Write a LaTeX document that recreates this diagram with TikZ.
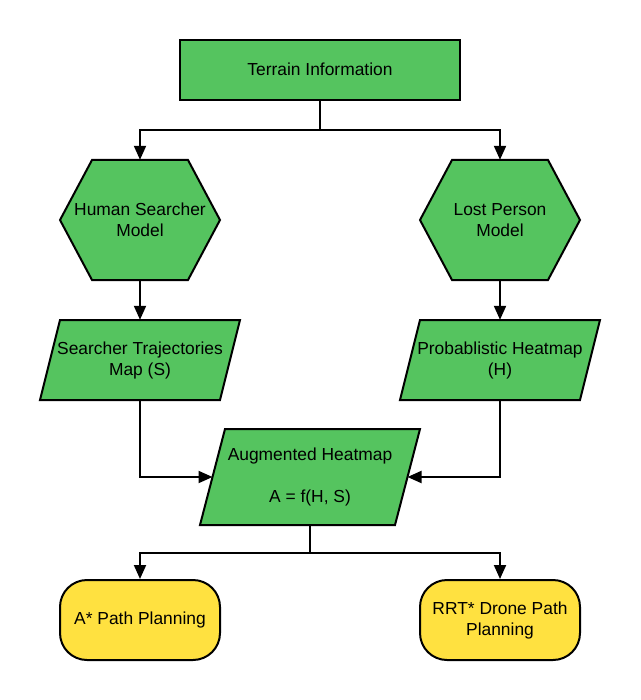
\documentclass[tikz,border=0pt]{standalone}
\usepackage{fontspec}
\setmainfont{Liberation Sans}
\usetikzlibrary{arrows.meta,calc}
\definecolor{boxgreen}{RGB}{85,196,95}
\definecolor{boxyellow}{RGB}{255,225,64}
\begin{document}
\begin{tikzpicture}[x=1pt,y=-1pt,
  every node/.style={font=\fontsize{17.4}{21}\selectfont, align=center, inner sep=0pt},
  shapeline/.style={draw=black, line width=2pt, line join=miter},
  greenfill/.style={shapeline, fill=boxgreen},
  yellowbox/.style={shapeline, fill=boxyellow, rounded corners=27pt, minimum width=160pt, minimum height=80pt},
  conn/.style={draw=black, line width=2pt, -{Triangle[length=14pt,width=12pt]}},
  plainconn/.style={draw=black, line width=2pt}
]
\useasboundingbox (0,0) rectangle (640,700);

% shapes (outlines)
\path[greenfill] (180,40) rectangle (460,100);
\path[greenfill] (60,220) -- (92,160) -- (188,160) -- (220,220) -- (188,280) -- (92,280) -- cycle;
\path[greenfill] (420,220) -- (452,160) -- (548,160) -- (580,220) -- (548,280) -- (452,280) -- cycle;
\path[greenfill] (60,320) -- (240,320) -- (220,400) -- (40,400) -- cycle;
\path[greenfill] (420,320) -- (600,320) -- (580,400) -- (400,400) -- cycle;
\path[greenfill] (225,429) -- (420,429) -- (395,525) -- (200,525) -- cycle;

% nodes
\node[minimum width=280pt, minimum height=60pt] (ti) at (320,70) {\raisebox{2pt}{Terrain Information}};
\node[minimum width=160pt, minimum height=120pt] (hs) at (140,220) {Human Searcher\\Model};
\node[minimum width=160pt, minimum height=120pt] (lp) at (500,220) {Lost Person\\Model};
\node[minimum width=180pt, minimum height=80pt] (st) at (140,360) {Searcher Trajectories\\Map (S)};
\node[minimum width=180pt, minimum height=80pt] (ph) at (500,360) {Probablistic Heatmap\\(H)};
\node[minimum width=195pt, minimum height=96pt] (ah) at (310,477) {Augmented Heatmap\\[21pt]A = f(H, S)};
\node[yellowbox] (ap) at (140,620) {\raisebox{2pt}{A* Path Planning}};
\node[yellowbox] (rr) at (500,620) {RRT* Drone Path\\Planning};

% junctions and entry points
\coordinate (j1) at (320,130);
\coordinate (j2) at (310,553);
\coordinate (ahl) at (212.5,477);
\coordinate (ahr) at (407.5,477);

% connectors
\draw[plainconn] (ti.south) -- (j1);
\draw[conn] (j1) -| (hs.north);
\draw[conn] (j1) -| (lp.north);
\draw[conn] (hs.south) -- (st.north);
\draw[conn] (lp.south) -- (ph.north);
\draw[conn] (st.south) |- (ahl);
\draw[conn] (ph.south) |- (ahr);
\draw[plainconn] (ah.south) -- (j2);
\draw[conn] (j2) -| (ap.north);
\draw[conn] (j2) -| (rr.north);
\end{tikzpicture}
\end{document}
